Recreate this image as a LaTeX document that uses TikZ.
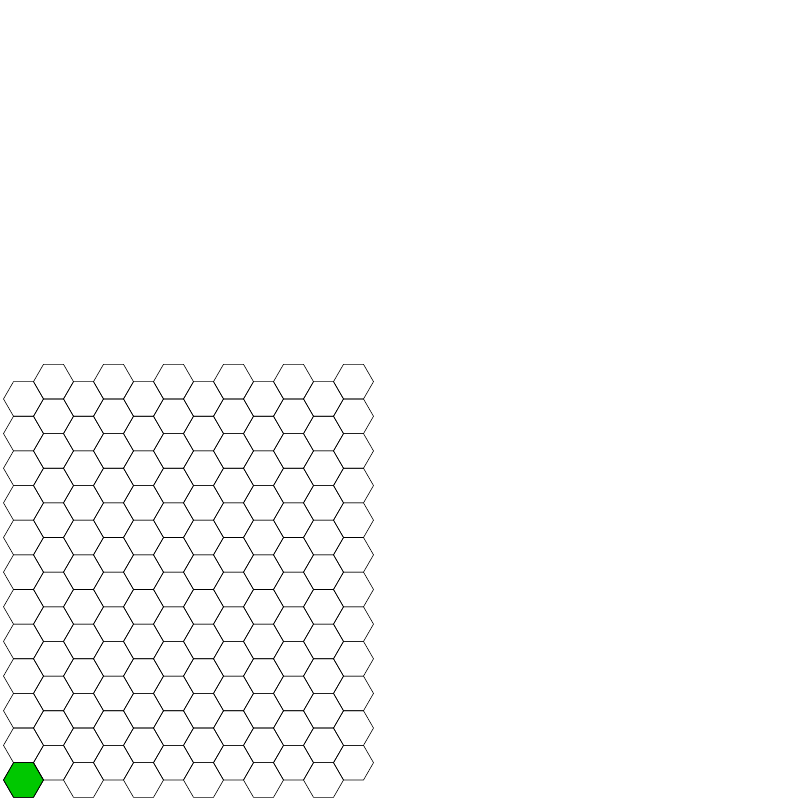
\documentclass[tikz,border=0pt]{standalone}
\definecolor{hexgreen}{RGB}{0,200,0}
\tikzset{hexline/.style={draw=black,line width=0.6pt,line join=miter}}
\begin{document}
\begin{tikzpicture}[x=1pt,y=-1pt]
\useasboundingbox (0,0) rectangle (800,800);
\filldraw[hexline,fill=hexgreen] (23.5,780) +(0:20) -- +(60:20) -- +(120:20) -- +(180:20) -- +(240:20) -- +(300:20) -- cycle;
\foreach \i in {0,...,11}{
  \foreach \j in {0,...,11}{
    \pgfmathsetmacro\cx{23.5+30*\i}
    \pgfmathsetmacro\cy{780-34.641*\j-mod(\i,2)*17.3205}
    \draw[hexline] (\cx,\cy) +(0:20) -- +(60:20) -- +(120:20) -- +(180:20) -- +(240:20) -- +(300:20) -- cycle;
  }
}
\end{tikzpicture}
\end{document}
